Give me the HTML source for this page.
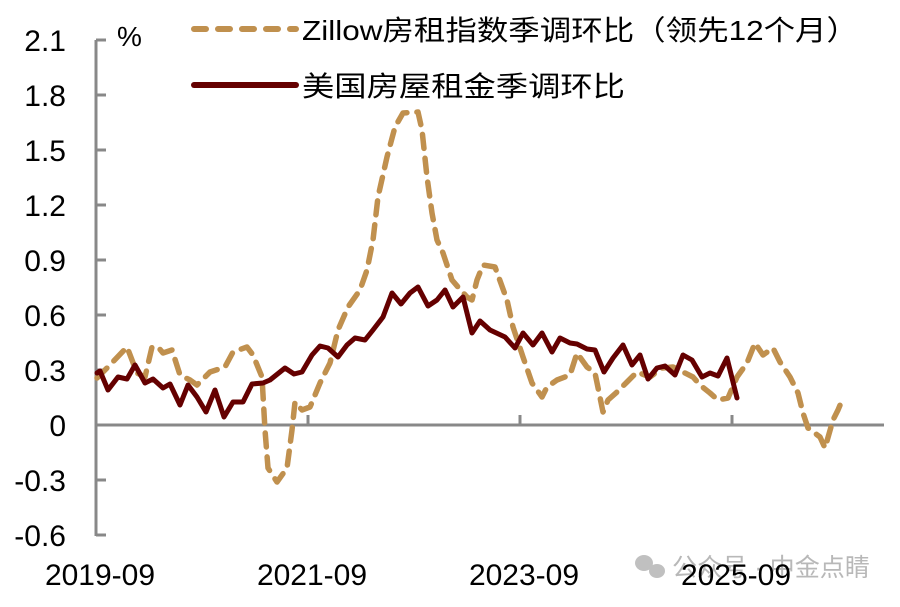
<!DOCTYPE html>
<html><head><meta charset="utf-8"><style>
html,body{margin:0;padding:0;background:#fff;}
svg text{font-family:"Liberation Sans","Noto Sans CJK SC",sans-serif;}
</style></head><body>
<svg width="900" height="602" viewBox="0 0 900 602" xmlns="http://www.w3.org/2000/svg">
<rect width="900" height="602" fill="#fff"/>
<g stroke="#888" stroke-width="3" fill="none">
<line x1="96" y1="40" x2="96" y2="536"/>
<line x1="96" y1="425" x2="884" y2="425"/>
<line x1="96" y1="40" x2="106" y2="40"/><line x1="96" y1="95" x2="106" y2="95"/>
<line x1="96" y1="150" x2="106" y2="150"/><line x1="96" y1="205" x2="106" y2="205"/>
<line x1="96" y1="260" x2="106" y2="260"/><line x1="96" y1="315" x2="106" y2="315"/>
<line x1="96" y1="370" x2="106" y2="370"/><line x1="96" y1="480" x2="106" y2="480"/>
<line x1="96" y1="535" x2="106" y2="535"/>
<line x1="308" y1="425" x2="308" y2="415"/><line x1="520" y1="425" x2="520" y2="415"/><line x1="732" y1="425" x2="732" y2="415"/>
</g>
<g font-size="30" fill="#000" text-anchor="end">
<text x="66" y="51">2.1</text><text x="66" y="106">1.8</text><text x="66" y="161">1.5</text>
<text x="66" y="216">1.2</text><text x="66" y="271">0.9</text><text x="66" y="326">0.6</text>
<text x="66" y="381">0.3</text><text x="66" y="436">0</text><text x="66" y="491">-0.3</text>
<text x="66" y="546">-0.6</text>
</g>
<text x="117" y="46" font-size="28">%</text>
<text x="672" y="576" font-size="25" fill="#b8b8b8" textLength="198" lengthAdjust="spacingAndGlyphs">公众号 · 中金点睛</text>
<g fill="#c0c0c0"><ellipse cx="644" cy="563" rx="9" ry="8"/><ellipse cx="657" cy="571" rx="8" ry="7"/></g>
<g font-size="30" fill="#000" text-anchor="middle">
<text x="100" y="585">2019-09</text><text x="312" y="585">2021-09</text>
<text x="524" y="585">2023-09</text><text x="736" y="585">2025-09</text>
</g>
<polyline fill="none" stroke="#c0904e" stroke-width="5.5" stroke-linecap="round" stroke-linejoin="round" stroke-dasharray="14 10"
points="97,378 108,367 127,347 137,373 145,377 152,347 158,347 163,353 172,350 180,375 190,380 197,385 210,372 225,367 233,352 247,347 253,355 262,377 265,430 268,468 277,482 287,468 292,430 295,402 302,410 310,407 320,383 330,363 338,330 348,307 360,290 367,270 373,240 378,197 387,157 395,127 403,113 418,112 422,130 427,177 432,213 437,240 443,253 452,280 458,287 467,297 472,300 477,280 483,265 495,267 507,300 513,327 523,357 532,383 542,397 547,387 557,380 570,375 577,353 587,367 595,373 603,412 608,400 617,392 627,382 637,372 650,377 662,368 673,367 683,372 693,377 700,385 710,393 718,400 728,398 737,377 747,363 755,343 763,355 773,348 780,362 790,377 798,393 803,413 808,428 820,437 825,448 833,420 838,410 843,398"/>
<polyline fill="none" stroke="#650000" stroke-width="5" stroke-linejoin="round" stroke-linecap="round"
points="97,373 100,371 108,390 118,377 127,379 135,365 145,383 153,379 163,388 170,384 180,405 188,385 197,397 206,412 215,390 224,417 233,402 243,402 252,384 263,383 270,380 285,368 294,374 302,372 312,355 320,346 328,348 338,357 347,345 355,338 365,340 373,330 383,317 392,293 401,304 410,293 418,287 428,306 437,300 445,290 453,307 463,297 472,333 480,321 490,330 505,337 515,348 523,333 533,345 542,333 552,352 560,338 570,343 577,344 587,349 595,350 604,372 613,358 623,345 632,365 640,355 648,379 657,368 665,366 675,375 683,355 692,360 702,377 710,373 718,376 727,358 737,398"/>
<line x1="194" y1="29" x2="296" y2="29" stroke="#c0904e" stroke-width="6" stroke-linecap="round" stroke-dasharray="12 12"/>
<line x1="194" y1="85" x2="296" y2="85" stroke="#650000" stroke-width="6" stroke-linecap="round"/>
<text x="302" y="40" font-size="28" textLength="556" lengthAdjust="spacingAndGlyphs">Zillow房租指数季调环比（领先12个月）</text>
<text x="302" y="96" font-size="28" textLength="323" lengthAdjust="spacingAndGlyphs">美国房屋租金季调环比</text>
</svg>
</body></html>
